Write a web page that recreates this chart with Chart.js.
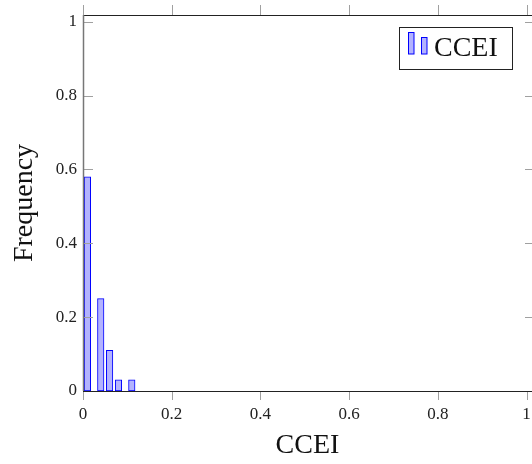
<!DOCTYPE html>
<html>
<head>
<meta charset="utf-8">
<script src="https://cdn.jsdelivr.net/npm/chart.js@4/dist/chart.umd.min.js"></script>
<style>
  html, body { margin: 0; padding: 0; background: #fff; }
  canvas { display: block; }
</style>
</head>
<body>
<canvas id="chart" width="532" height="464"></canvas>
<script>
// histogram data
const binCenters = [0.01, 0.04, 0.06, 0.08, 0.11];
const frequency = [0.58, 0.25, 0.11, 0.03, 0.03];
const xTicks = [0, 0.2, 0.4, 0.6, 0.8, 1];
const yTicks = [0, 0.2, 0.4, 0.6, 0.8, 1];
const seriesName = "CCEI";

const FONT = "'Liberation Serif', 'DejaVu Serif', serif";
const FILL = "rgb(179,179,255)";
const EDGE = "rgb(0,0,255)";

function fmt(v) {
  if (v === 0) return "0";
  if (v === 1) return "1";
  return v.toFixed(1);
}

// frame, mirrored ticks and legend box
const framePlugin = {
  id: "frame",
  afterDraw(chart) {
    const ctx = chart.ctx;
    const a = chart.chartArea;
    const xs = chart.scales.x, ys = chart.scales.y;
    ctx.save();
    ctx.lineWidth = 1;
    ctx.strokeStyle = "#a0a0a0";
    xTicks.forEach(v => {
      const px = Math.round(xs.getPixelForValue(v)) + 0.5;
      ctx.beginPath();
      ctx.moveTo(px, a.bottom); ctx.lineTo(px, a.bottom + 9);
      ctx.moveTo(px, a.top); ctx.lineTo(px, a.top - 10);
      ctx.stroke();
    });
    yTicks.forEach(v => {
      const py = Math.round(ys.getPixelForValue(v)) + 0.5;
      ctx.beginPath();
      ctx.moveTo(a.left, py); ctx.lineTo(a.left + 10, py);
      ctx.moveTo(a.right, py); ctx.lineTo(a.right - 7, py);
      ctx.stroke();
    });
    // axis lines
    ctx.strokeStyle = "#222";
    ctx.beginPath();
    ctx.moveTo(a.left, Math.round(a.top) + 0.5); ctx.lineTo(a.right, Math.round(a.top) + 0.5);
    ctx.moveTo(a.left, Math.round(a.bottom) + 0.5); ctx.lineTo(a.right, Math.round(a.bottom) + 0.5);
    ctx.stroke();
    ctx.strokeStyle = "#777";
    ctx.lineWidth = 1.5;
    ctx.beginPath();
    ctx.moveTo(Math.round(a.left) + 0.5, a.top); ctx.lineTo(Math.round(a.left) + 0.5, a.bottom);
    ctx.stroke();

    // legend
    ctx.lineWidth = 1;
    ctx.fillStyle = "#fff";
    ctx.fillRect(399.5, 27.5, 113, 42);
    ctx.strokeStyle = "#222";
    ctx.strokeRect(399.5, 27.5, 113, 42);
    ctx.fillStyle = FILL;
    ctx.strokeStyle = EDGE;
    ctx.fillRect(408.5, 32.5, 5.5, 21.5);
    ctx.strokeRect(408.5, 32.5, 5.5, 21.5);
    ctx.fillRect(421.5, 37.5, 5.5, 16.5);
    ctx.strokeRect(421.5, 37.5, 5.5, 16.5);
    ctx.fillStyle = "#111";
    ctx.font = "28px " + FONT;
    ctx.textBaseline = "alphabetic";
    ctx.textAlign = "left";
    ctx.fillText(seriesName, 434, 56);
    ctx.restore();
  }
};

new Chart(document.getElementById("chart"), {
  type: "bar",
  data: {
    datasets: [{
      label: seriesName,
      data: binCenters.map((x, i) => ({ x: x, y: frequency[i] })),
      backgroundColor: FILL,
      borderColor: EDGE,
      borderWidth: 1,
      borderSkipped: false,
      barThickness: 6.5
    }]
  },
  options: {
    responsive: false,
    animation: false,
    devicePixelRatio: 1,
    layout: { padding: { top: 15, right: 0, left: 0, bottom: 0 } },
    plugins: {
      legend: { display: false },
      tooltip: { enabled: false }
    },
    scales: {
      x: {
        type: "linear",
        offset: false,
        min: 0,
        max: 1.0124,
        afterFit: s => { s.height = 73; s.paddingLeft = 0; s.paddingRight = 0; },
        afterBuildTicks: s => { s.ticks = xTicks.map(v => ({ value: v })); },
        grid: { display: false, drawTicks: false, offset: false },
        border: { display: false },
        ticks: {
          padding: 13,
          maxRotation: 0,
          autoSkip: false,
          color: "#222",
          font: { family: FONT, size: 17 },
          callback: v => fmt(v)
        },
        title: {
          display: true,
          text: "CCEI",
          color: "#111",
          font: { family: FONT, size: 28 },
          padding: { top: 0, bottom: 2 }
        }
      },
      y: {
        min: 0,
        max: 1.018,
        afterFit: s => { s.width = 83; s.paddingTop = 0; s.paddingBottom = 0; },
        afterBuildTicks: s => { s.ticks = yTicks.map(v => ({ value: v })); },
        grid: { display: false, drawTicks: false },
        border: { display: false },
        ticks: {
          padding: 6,
          autoSkip: false,
          color: "#222",
          font: { family: FONT, size: 17 },
          callback: v => fmt(v)
        },
        title: {
          display: true,
          text: "Frequency",
          color: "#111",
          font: { family: FONT, size: 28 },
          padding: { top: 8, bottom: 0 }
        }
      }
    }
  },
  plugins: [framePlugin]
});
</script>
</body>
</html>
